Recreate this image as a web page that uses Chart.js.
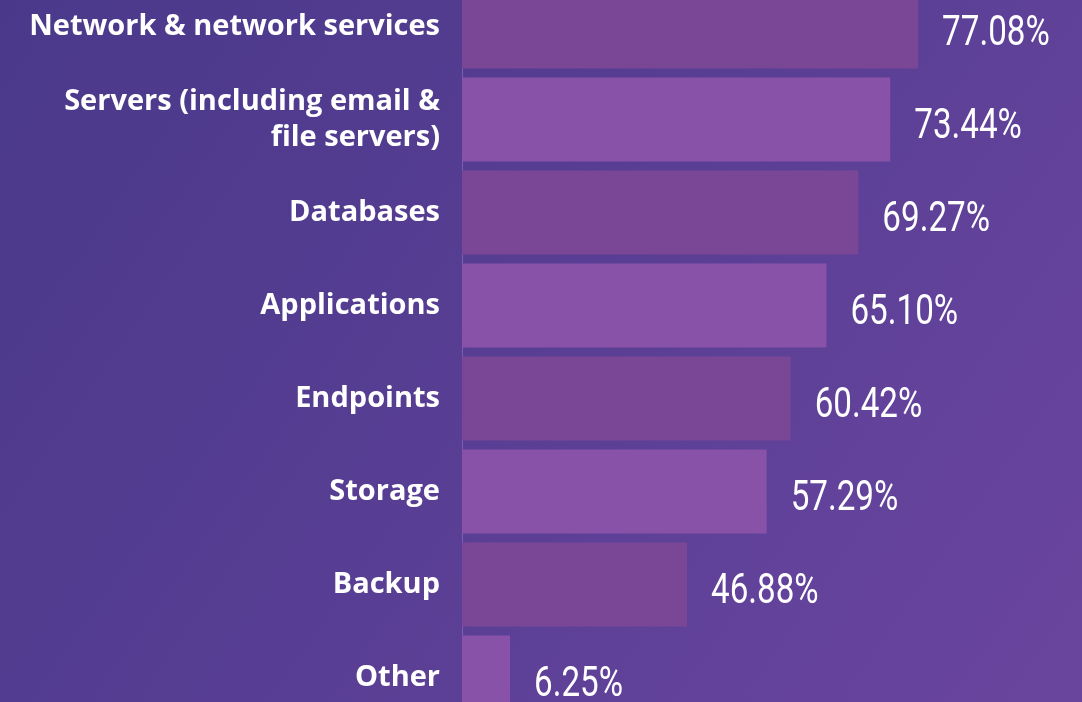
<!DOCTYPE html>
<html>
<head>
<meta charset="utf-8">
<script src="https://cdn.jsdelivr.net/npm/chart.js@4.4.1/dist/chart.umd.min.js"></script>
<style>
  html, body { margin: 0; padding: 0; }
  body {
    width: 1082px;
    height: 702px;
    overflow: hidden;
    position: relative;
    background: linear-gradient(125deg, #4a398a 0%, #523c90 30%, #5a3f95 55%, #62429a 75%, #6a459e 100%);
  }
  #wrap { position: absolute; left: 0; top: -20px; width: 1082px; height: 744px; }
</style>
</head>
<body>
<div id="wrap"><canvas id="attackChart" width="1082" height="744"></canvas></div>
<script>
const categories = [
    "Network & network services",
    ["Servers (including email &", "file servers)"],
    "Databases",
    "Applications",
    "Endpoints",
    "Storage",
    "Backup",
    "Other"
];
const shares = [77.08, 73.44, 69.27, 65.10, 60.42, 57.29, 46.88, 6.25];
const barColors = ["#7a4797", "#8852a8"];

// value labels to the right of each bar, in a narrow face
const valueLabels = {
    id: "valueLabels",
    afterDatasetsDraw(chart) {
        const ctx = chart.ctx;
        const meta = chart.getDatasetMeta(0);
        ctx.save();
        ctx.fillStyle = "#ffffff";
        ctx.font = "400 42px Roboto";
        ctx.textBaseline = "alphabetic";
        meta.data.forEach((bar, i) => {
            const text = shares[i].toFixed(2) + "%";
            ctx.save();
            ctx.translate(bar.x + 24, bar.y + 18);
            ctx.scale(0.79, 1);
            ctx.fillText(text, 0, 0);
            ctx.restore();
        });
        ctx.restore();
    }
};

const ctx = document.getElementById("attackChart").getContext("2d");
new Chart(ctx, {
    type: "bar",
    data: {
        labels: categories,
        datasets: [{
            data: shares,
            backgroundColor: shares.map((v, i) => barColors[i % 2]),
            borderWidth: 0,
            barPercentage: 1,
            categoryPercentage: 0.903,
            minBarLength: 48,
            clip: 0
        }]
    },
    options: {
        indexAxis: "y",
        responsive: false,
        maintainAspectRatio: false,
        animation: false,
        layout: { padding: 0 },
        plugins: {
            legend: { display: false },
            tooltip: { enabled: false }
        },
        scales: {
            x: {
                display: false,
                min: 17.47,
                max: 98.5
            },
            y: {
                afterFit(scale) {
                    scale.width = 462;
                    scale.paddingTop = 0;
                    scale.paddingBottom = 0;
                },
                grid: { display: false, drawTicks: false },
                border: { display: true, color: "#7d5db3", width: 1 },
                ticks: {
                    color: "#ffffff",
                    padding: 22,
                    font: { family: "'Open Sans'", size: 29, weight: "bold", lineHeight: 1.24 }
                }
            }
        }
    },
    plugins: [valueLabels]
});
</script>
</body>
</html>
